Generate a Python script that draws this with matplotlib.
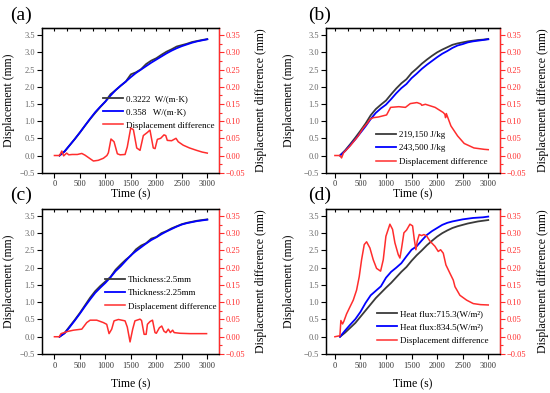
import matplotlib
matplotlib.use("Agg")
import matplotlib.pyplot as plt
from matplotlib.ticker import MultipleLocator

plt.rcParams['font.family'] = ['Liberation Serif', 'DejaVu Serif']

# ---------------- data ----------------
t_disp = [100, 200, 300, 400, 500, 600, 700, 800, 900, 1000, 1100, 1200, 1300, 1400, 1500,
          1600, 1700, 1800, 1900, 2000, 2100, 2200, 2300, 2400, 2500, 2600, 2700, 2800, 2900, 3000]

# (a) thermal conductivity
a_black = [0.0, 0.12, 0.30, 0.48, 0.67, 0.87, 1.06, 1.24, 1.41, 1.57, 1.78, 1.90, 2.03, 2.15, 2.36,
           2.42, 2.51, 2.66, 2.76, 2.83, 2.93, 3.02, 3.09, 3.17, 3.21, 3.25, 3.30, 3.33, 3.36, 3.385]
a_blue = [0.0, 0.12, 0.30, 0.48, 0.67, 0.87, 1.07, 1.26, 1.42, 1.57, 1.74, 1.90, 2.03, 2.15, 2.28,
          2.40, 2.50, 2.60, 2.70, 2.79, 2.88, 2.97, 3.05, 3.12, 3.18, 3.23, 3.28, 3.32, 3.35, 3.38]
a_t_diff = [0, 100, 145, 180, 241, 280, 350, 450, 537, 600, 765, 860, 961, 1030, 1059, 1110, 1170,
            1235, 1290, 1386, 1430, 1497, 1550, 1615, 1680, 1745, 1823, 1875, 1940, 1975, 2020, 2085,
            2150, 2185, 2215, 2300, 2386, 2430, 2528, 2650, 2790, 2900, 3000]
a_diff = [0.0, 0.0, 0.013, -0.001, 0.007, 0.002, 0.003, 0.003, 0.006, 0.001, -0.016, -0.014, -0.008,
          0.0, 0.008, 0.048, 0.040, 0.005, 0.002, 0.003, 0.025, 0.080, 0.075, 0.022, 0.015, 0.058,
          0.067, 0.074, 0.022, 0.020, 0.047, 0.050, 0.060, 0.058, 0.044, 0.043, 0.050, 0.040, 0.030,
          0.022, 0.015, 0.010, 0.007]

# (b) latent heat
b_black = [0.0, 0.15, 0.33, 0.52, 0.72, 0.93, 1.17, 1.35, 1.48, 1.60, 1.78, 1.95, 2.10, 2.22, 2.40,
           2.53, 2.67, 2.79, 2.90, 3.00, 3.08, 3.15, 3.22, 3.26, 3.29, 3.32, 3.34, 3.36, 3.37, 3.39]
b_blue = [0.0, 0.13, 0.30, 0.47, 0.66, 0.85, 1.06, 1.24, 1.37, 1.48, 1.64, 1.81, 1.96, 2.08, 2.25,
          2.38, 2.52, 2.64, 2.75, 2.86, 2.96, 3.04, 3.13, 3.20, 3.24, 3.29, 3.32, 3.34, 3.36, 3.38]
b_t_diff = [0, 98, 130, 170, 293, 456, 554, 640, 684, 750, 850, 1011, 1090, 1250, 1380, 1475, 1605,
            1680, 1700, 1770, 1960, 2120, 2150, 2165, 2180, 2270, 2400, 2530, 2720, 2920, 3000]
b_diff = [0.0, 0.0, -0.007, 0.008, 0.027, 0.057, 0.080, 0.095, 0.105, 0.110, 0.112, 0.118, 0.140,
          0.142, 0.140, 0.151, 0.154, 0.150, 0.146, 0.149, 0.140, 0.125, 0.120, 0.110, 0.122, 0.086,
          0.057, 0.035, 0.022, 0.018, 0.017]

# (c) thickness
c_black = [0.0, 0.11, 0.30, 0.49, 0.69, 0.91, 1.13, 1.32, 1.47, 1.60, 1.73, 1.94, 2.09, 2.23, 2.35,
           2.53, 2.64, 2.71, 2.84, 2.89, 3.00, 3.06, 3.14, 3.20, 3.26, 3.30, 3.33, 3.36, 3.38, 3.40]
c_blue = [0.0, 0.10, 0.28, 0.47, 0.67, 0.88, 1.08, 1.27, 1.42, 1.56, 1.72, 1.90, 2.04, 2.20, 2.36,
          2.48, 2.59, 2.70, 2.80, 2.88, 2.97, 3.05, 3.12, 3.19, 3.25, 3.29, 3.32, 3.35, 3.37, 3.39]
c_t_diff = [0, 94, 130, 192, 250, 373, 537, 634, 700, 830, 961, 1026, 1072, 1124, 1170, 1256, 1320,
            1386, 1430, 1484, 1536, 1580, 1680, 1710, 1760, 1800, 1825, 1876, 1925, 1974, 2000, 2060,
            2106, 2150, 2190, 2235, 2275, 2320, 2350, 2465, 2660, 2986]
c_diff = [0.0, 0.0, 0.009, 0.012, 0.015, 0.019, 0.022, 0.041, 0.048, 0.048, 0.041, 0.036, 0.009, 0.022,
          0.046, 0.050, 0.048, 0.046, 0.028, -0.015, 0.022, 0.046, 0.051, 0.047, 0.007, 0.007, 0.036,
          0.044, 0.048, 0.012, 0.010, 0.026, 0.031, 0.016, 0.012, 0.022, 0.012, 0.019, 0.012, 0.010,
          0.009, 0.009]

# (d) heat flux
d_black = [0.0, 0.12, 0.26, 0.40, 0.58, 0.76, 0.94, 1.12, 1.27, 1.42, 1.56, 1.72, 1.88, 2.02, 2.20,
           2.36, 2.50, 2.65, 2.78, 2.90, 3.00, 3.08, 3.15, 3.20, 3.24, 3.28, 3.31, 3.34, 3.36, 3.38]
d_blue = [0.0, 0.18, 0.35, 0.51, 0.72, 0.98, 1.20, 1.33, 1.46, 1.71, 1.88, 2.00, 2.13, 2.33, 2.52,
          2.62, 2.79, 2.95, 3.06, 3.15, 3.24, 3.30, 3.34, 3.37, 3.40, 3.42, 3.44, 3.45, 3.46, 3.48]
d_t_diff = [0, 98, 117, 150, 176, 228, 293, 359, 424, 476, 522, 574, 620, 685, 750, 815, 894, 946,
            998, 1076, 1128, 1174, 1239, 1272, 1305, 1350, 1402, 1468, 1520, 1553, 1585, 1611, 1650,
            1696, 1742, 1794, 1859, 1957, 2022, 2068, 2120, 2172, 2250, 2316, 2349, 2446, 2577, 2707,
            2850, 3000]
d_diff = [0.0, 0.003, 0.047, 0.037, 0.045, 0.066, 0.086, 0.106, 0.135, 0.174, 0.223, 0.267, 0.275,
          0.257, 0.223, 0.198, 0.190, 0.223, 0.291, 0.326, 0.311, 0.272, 0.238, 0.228, 0.257, 0.301,
          0.309, 0.326, 0.321, 0.282, 0.252, 0.277, 0.296, 0.293, 0.296, 0.292, 0.277, 0.262, 0.247,
          0.252, 0.242, 0.208, 0.184, 0.164, 0.145, 0.120, 0.106, 0.096, 0.093, 0.092]

panels = [
    dict(tag='(a)', black=a_black, blue=a_blue, td=a_t_diff, diff=a_diff,
         labels=['0.3222  W/(m·K)', '0.358   W/(m·K)', 'Displacement difference']),
    dict(tag='(b)', black=b_black, blue=b_blue, td=b_t_diff, diff=b_diff,
         labels=['219,150 J/kg', '243,500 J/kg', 'Displacement difference']),
    dict(tag='(c)', black=c_black, blue=c_blue, td=c_t_diff, diff=c_diff,
         labels=['Thickness:2.5mm', 'Thickness:2.25mm', 'Displacement difference']),
    dict(tag='(d)', black=d_black, blue=d_blue, td=d_t_diff, diff=d_diff,
         labels=['Heat flux:715.3(W/m²)', 'Heat flux:834.5(W/m²)', 'Displacement difference']),
]

# ---------------- layout ----------------
W, H = 550, 393
fig = plt.figure(figsize=(5.5, 3.93), dpi=100)

# pixel boxes: left, right, top, bottom
boxes = [(41.7, 219, 28.3, 172.7), (325.7, 500, 28.3, 172.7),
         (41.7, 219, 209, 354), (325.7, 500, 209, 354)]
xlims = [(-250, 3230), (-180, 3230), (-250, 3230), (-180, 3230)]
leg_anchor = [(0.346, 0.54), (0.289, 0.29), (0.357, 0.54), (0.294, 0.305)]
left_lab_x = [-0.15, -0.176, -0.15, -0.176]
right_lab_x = [1.203, 1.213, 1.203, 1.213]
time_lab_y = [-0.106, -0.106, -0.166, -0.166]
tag_pos = [(10, 15), (308, 15), (10, 195), (308, 195)]

BLACK = '#3a3a3a'
BLUE = '#0000ff'
RED = '#ff2d2d'

for i, p in enumerate(panels):
    l, r, t, b = boxes[i]
    ax = fig.add_axes([l / W, 1 - b / H, (r - l) / W, (b - t) / H])
    ax2 = ax.twinx()
    h1, = ax.plot(t_disp, p['black'], color=BLACK, lw=1.3)
    h2, = ax.plot(t_disp, p['blue'], color=BLUE, lw=1.3)
    h3, = ax2.plot(p['td'], p['diff'], color=RED, lw=1.1)

    ax.set_xlim(*xlims[i])
    ax.set_ylim(-0.5, 3.7)
    ax2.set_ylim(-0.05, 0.37)
    ax.yaxis.set_major_locator(MultipleLocator(0.5))
    ax2.yaxis.set_major_locator(MultipleLocator(0.05))
    ax2.yaxis.set_minor_locator(MultipleLocator(0.025))
    ax.set_xticks(range(0, 3001, 500))

    ax.tick_params(axis='x', direction='out', length=3.5, width=0.8, labelsize=6,
                   labelcolor='#333333', pad=2)
    ax.tick_params(axis='y', direction='out', length=3.5, width=0.8, labelsize=6,
                   labelcolor='#666666', pad=1.5)
    ax2.tick_params(axis='y', which='major', direction='out', length=3.5, width=0.8,
                    colors=RED, labelsize=6, pad=1.5)
    ax2.tick_params(axis='y', which='minor', direction='out', length=2, width=0.8, colors=RED)
    ax2.spines['right'].set_color(RED)
    for s in ['left', 'top', 'bottom']:
        ax.spines[s].set_linewidth(0.9)
        ax2.spines[s].set_linewidth(0.9)
    ax2.spines['right'].set_linewidth(1.0)

    # inward ticks along the top spine
    top = ax.secondary_xaxis('top')
    top.set_xticks(range(0, 3001, 250))
    top.tick_params(direction='in', length=2.5, width=0.8, labeltop=False)
    top.set_xticklabels([])

    ax.set_ylabel('Displacement (mm)', fontsize=8.5)
    ax.yaxis.set_label_coords(left_lab_x[i], 0.5)
    ax2.set_ylabel('Displacement difference (mm)', fontsize=8.5, rotation=90)
    ax2.yaxis.set_label_coords(right_lab_x[i], 0.5)
    ax.set_xlabel('Time (s)', fontsize=8.5)
    ax.xaxis.set_label_coords(0.5, time_lab_y[i])

    ax2.legend([h1, h2, h3], p['labels'], loc='upper left', bbox_to_anchor=leg_anchor[i],
               frameon=False, fontsize=6.5, handlelength=2.2, handletextpad=0.3,
               labelspacing=0.55, borderpad=0, borderaxespad=0)

    fig.text(tag_pos[i][0] / W, 1 - tag_pos[i][1] / H, p['tag'], fontsize=14,
             ha='left', va='center')

fig.savefig('out.png', dpi=100)
